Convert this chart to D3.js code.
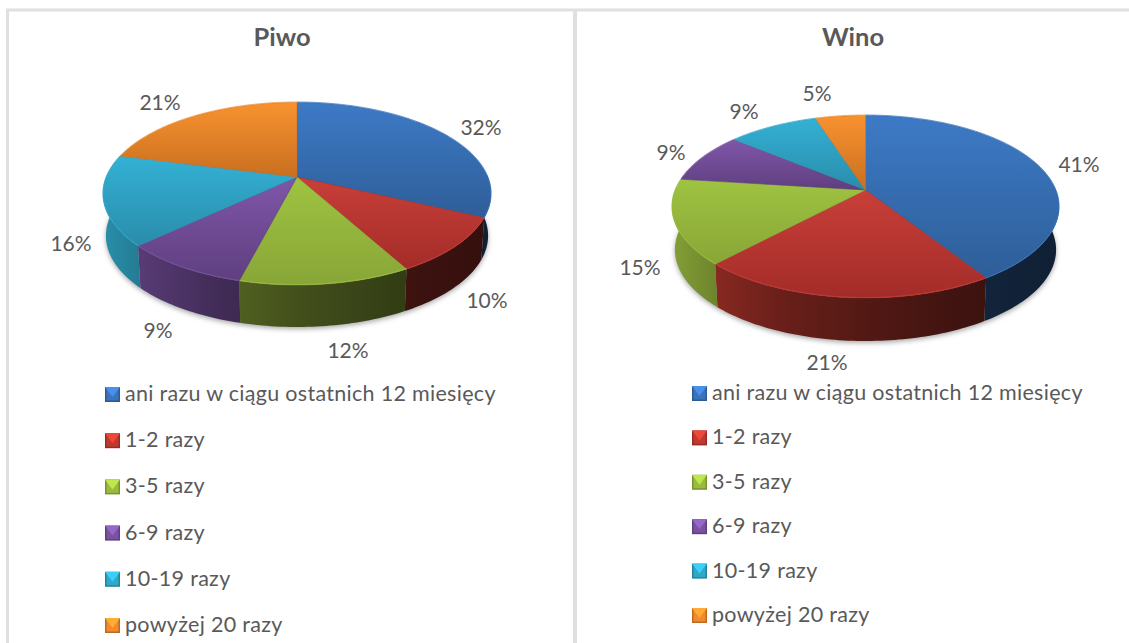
<!DOCTYPE html>
<html>
<head>
<meta charset="utf-8">
<script src="https://cdn.jsdelivr.net/npm/d3@7"></script>
<style>
  html, body { margin: 0; padding: 0; background: #fff; overflow: hidden; }
  text { font-family: Lato, "Open Sans", sans-serif; fill: #595959; }
</style>
</head>
<body>
<div id="chart"></div>
<script>
const categories = ["ani razu w ciągu ostatnich 12 miesięcy", "1-2 razy", "3-5 razy", "6-9 razy", "10-19 razy", "powyżej 20 razy"];
const piwoValues = [32, 10, 12, 9, 16, 21];
const winoValues = [41, 21, 15, 9, 9, 5];
const topLight = ["#3d7ac6", "#c93f39", "#9fc341", "#7f56a9", "#33b1d4", "#f8922f"];
const topDark = ["#2e5e98", "#a32c28", "#88a637", "#5f3f7f", "#2a8cab", "#c96f20"];
const sideBase = ["#3a74bd", "#c0392f", "#9bbb3f", "#7a52a2", "#30a8c9", "#f08a2c"];

const width = 1129, height = 643;

const svg = d3.select("#chart").append("svg")
    .attr("width", width)
    .attr("height", height);
const defs = svg.append("defs");

defs.append("filter").attr("id", "soft")
    .attr("x", "-10%").attr("y", "-10%").attr("width", "120%").attr("height", "120%")
  .append("feGaussianBlur").attr("stdDeviation", 2.5);

// frame
const frame = svg.append("g").attr("fill", "none").attr("stroke", "#e0e0e0");
frame.append("path").attr("d", "M7.5,643V10H1129").attr("stroke-width", 3);
frame.append("path").attr("d", "M575,10V643").attr("stroke-width", 4);

// top of the pie goes through a perspective mapping, the apex is not the ellipse centre
function drawPie(id, title, values, o) {
  const g = svg.append("g");
  const k = (o.front - o.back) / (o.front + o.back);
  const b = o.front * (1 - k);
  const a = o.rx * Math.sqrt(1 - k * k);
  const xScale = d3.scaleLinear().domain([-1, 1]).range([o.cx - a, o.cx + a]);
  const yScale = d3.scaleLinear().domain([-1, 1]).range([o.cy - b, o.cy + b]);
  const project = (t, r = 1) => {
    const u = r * Math.sin(t), v = -r * Math.cos(t), w = 1 - k * v;
    return [xScale(u / w), yScale(v / w)];
  };
  const arcPoints = (t0, t1) => {
    const n = Math.max(2, Math.ceil((t1 - t0) / 0.02));
    return d3.range(n + 1).map(i => project(t0 + (t1 - t0) * i / n));
  };
  const line = d3.line();
  const pie = d3.pie().sort(null)(values);
  // the lower rim sits a bit further away so it is a little narrower
  const lower = p => [o.cx + (p[0] - o.cx) * 0.985, p[1] + o.depth];

  // shadow under the body
  const full = arcPoints(0, 2 * Math.PI);
  g.append("path")
      .attr("d", line(full.map(lower).map(p => [p[0], p[1] + 2])) + "Z")
      .attr("fill", "#a8a8a8")
      .attr("filter", "url(#soft)");

  // side walls: only the front half of the rim is seen
  const side = d3.scaleLinear().domain([0, 0.12, 0.28, 0.5, 0.75, 1]).range([0.85, 0.7, 0.55, 0.43, 0.33, 0.27]);
  pie.forEach((d, i) => {
    const t0 = Math.max(d.startAngle, Math.PI / 2 - 0.03);
    const t1 = Math.min(d.endAngle, 3 * Math.PI / 2 + 0.03);
    if (t1 <= t0) return;
    const gid = `${id}-side-${i}`;
    const gr = defs.append("linearGradient").attr("id", gid)
        .attr("gradientUnits", "userSpaceOnUse")
        .attr("x1", o.cx - o.rx).attr("x2", o.cx + o.rx).attr("y1", 0).attr("y2", 0);
    side.domain().forEach(s => {
      const c = d3.rgb(sideBase[i]);
      const f = side(s);
      gr.append("stop").attr("offset", s)
          .attr("stop-color", d3.rgb(c.r * f, c.g * f, c.b * f).formatHex());
    });
    const rim = arcPoints(t0, t1);
    const pts = rim.concat(rim.slice().reverse().map(lower));
    g.append("path").attr("d", line(pts) + "Z").attr("fill", `url(#${gid})`);
  });

  // top wedges
  pie.forEach((d, i) => {
    const gid = `${id}-top-${i}`;
    const gr = defs.append("linearGradient").attr("id", gid)
        .attr("x1", 0).attr("x2", 0).attr("y1", 0).attr("y2", 1);
    gr.append("stop").attr("offset", 0).attr("stop-color", topLight[i]);
    gr.append("stop").attr("offset", 1).attr("stop-color", topDark[i]);
    const pts = [project(0, 0)].concat(arcPoints(d.startAngle, d.endAngle));
    g.append("path")
        .attr("d", line(pts) + "Z")
        .attr("fill", `url(#${gid})`)
        .attr("stroke", topDark[i])
        .attr("stroke-width", 0.5);
    // bevel along the rim
    g.append("path")
        .attr("d", line(arcPoints(d.startAngle, d.endAngle).map(p => [p[0], p[1] - 0.5])))
        .attr("fill", "none")
        .attr("stroke", topLight[i])
        .attr("stroke-opacity", 0.7)
        .attr("stroke-width", 1);
  });

  // title
  svg.append("text")
      .attr("x", o.titleX).attr("y", 46)
      .attr("text-anchor", "middle")
      .attr("font-size", 25.5).attr("font-weight", 700)
      .text(title);

  // percent labels
  values.forEach((v, i) => {
    svg.append("text")
        .attr("x", o.labels[i][0]).attr("y", o.labels[i][1])
        .attr("text-anchor", "middle")
        .attr("font-size", 21)
        .text(v + "%");
  });

  // legend
  const legendY = d3.scalePoint().domain(categories).range(o.legendRange);
  categories.forEach((c, i) => {
    const y = legendY(c);
    const m = svg.append("g").attr("transform", `translate(${o.legendX},${y})`);
    const cb = d3.rgb(sideBase[i]);
    m.append("rect").attr("x", 0).attr("y", -7).attr("width", 15).attr("height", 15)
        .attr("fill", cb.darker(0.7).formatHex());
    m.append("rect").attr("x", 1.5).attr("y", -5.5).attr("width", 12).attr("height", 12)
        .attr("fill", cb.formatHex());
    m.append("path").attr("d", d3.line()([[0, -7], [15, -7], [7.5, 3]]) + "Z")
        .attr("fill", cb.brighter(0.6).formatHex());
    svg.append("text")
        .attr("x", o.legendX + 20).attr("y", y + 7)
        .attr("font-size", 21.5)
        .attr("letter-spacing", 0.3)
        .text(c);
  });
}

drawPie("piwo", "Piwo", piwoValues, {
  cx: 297, cy: 177, rx: 194, back: 74.5, front: 108, depth: 42,
  titleX: 282,
  labels: [[481, 135], [487, 308], [348, 358], [158, 338], [71, 251], [160, 110]],
  legendX: 105, legendRange: [394, 625]
});
drawPie("wino", "Wino", winoValues, {
  cx: 865.5, cy: 190, rx: 193.5, back: 74.5, front: 108, depth: 43,
  titleX: 853,
  labels: [[1079, 172], [827, 370], [640, 275], [671, 160], [744, 119], [817, 101]],
  legendX: 692, legendRange: [393, 615]
});
</script>
</body>
</html>
